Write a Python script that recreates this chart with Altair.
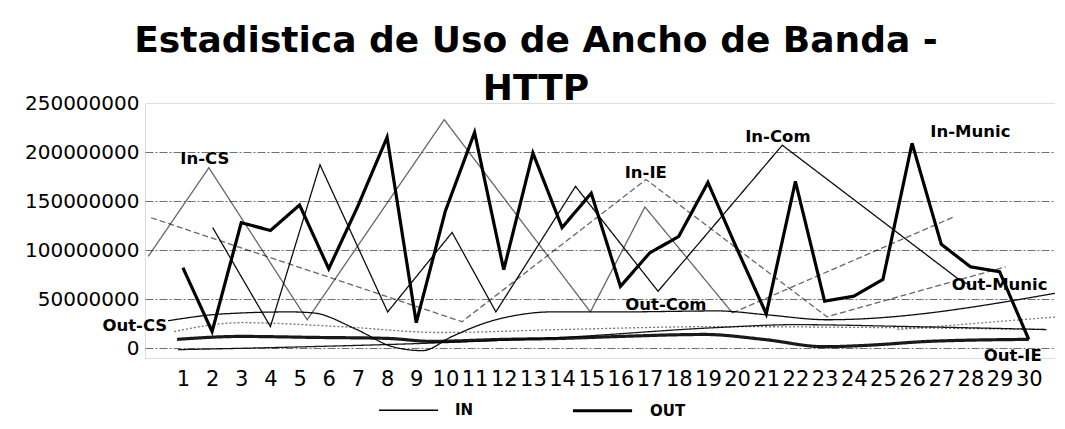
import altair as alt
import pandas as pd

TITLE = ["Estadistica de Uso de Ancho de Banda -", "HTTP"]
days = list(range(1, 31))
y_ticks = [0, 50000000, 100000000, 150000000, 200000000, 250000000]

# values in millions of bytes
out_main = [82, 17, 128, 120, 146, 81, 145, 215, 26, 140, 220, 80, 199, 123, 158,
            63, 97, 114, 169, 101, 35, 170, 48, 53, 70, 209, 106, 83, 78, 9]

in_cs_x = [-0.19, 1.89, 5.26, 9.96, 14.97, 16.84, 19.84]
in_cs_y = [93.5, 184, 29, 233, 37, 144, 36]
in_cs_tail_x = [19.84, 27.44]
in_cs_tail_y = [36, 134]
in_com_x = [2.02, 4.0, 5.70, 8.02, 10.23, 11.73, 14.46, 17.29, 21.55, 27.61, 28.0]
in_com_y = [123, 22, 187, 37, 118, 37, 165, 58, 207, 70, 64]
in_ie_x = [-0.09, 10.57, 16.88, 23.08, 29.21]
in_ie_y = [133, 27, 172, 32, 83]

out_com_x = [0.49, 2.4, 4.68, 5.46, 6.96, 8.19, 9.21, 10.23, 11.39, 12.52, 13.64,
             16.0, 19.33, 21.03, 23.08, 31.0]
out_com_y = [28, 35, 37, 36, 19, 1.5, -2.5, 12, 26, 34, 37, 37, 38, 34, 29, 56.5]
out_cs_x = [0.7, 3, 6.4, 9.8, 14, 19.3, 25, 30.6]
out_cs_y = [17, 26, 22, 16, 19, 22, 21, 19]
out_ie_x = [0.8, 3, 5.5, 8, 9.5, 12, 14, 16, 18.9, 20.9, 23, 24.5, 26.6, 30]
out_ie_y = [9, 12, 11, 10, 7, 9, 10, 12, 14, 9, 1.5, 3, 7, 9]
out_munic_x = [0.83, 5.26, 9.8, 14, 19.3, 22, 26, 30.6]
out_munic_y = [-1.5, 1.5, 5.5, 11, 21, 24, 22, 19]
out_munic_tail_x = [25.5, 31.0]
out_munic_tail_y = [19, 32]

label_text = ["In-CS", "Out-CS", "In-IE", "Out-Com", "In-Com", "In-Munic", "Out-Munic", "Out-IE"]
label_x = [1.75, -0.65, 16.87, 17.56, 21.4, 28.0, 29.0, 29.45]
label_y = [193, 23, 179, 44.3, 215.4, 220.4, 64.7, -7.6]

# series: name, xs, ys, group, opacity, dash, interpolation
series = [
    ("In-Munic", days, out_main, "OUT", 1.0, "solid", "linear"),
    ("In-CS", in_cs_x, in_cs_y, "IN", 0.6, "solid", "linear"),
    ("In-CS-tail", in_cs_tail_x, in_cs_tail_y, "IN", 0.6, "dash", "linear"),
    ("In-Com", in_com_x, in_com_y, "IN", 0.95, "solid", "linear"),
    ("In-IE", in_ie_x, in_ie_y, "IN", 0.6, "dash", "linear"),
    ("Out-Com", out_com_x, out_com_y, "IN", 0.95, "solid", "smooth"),
    ("Out-CS", out_cs_x, out_cs_y, "IN", 0.55, "dot", "smooth"),
    ("Out-IE", out_ie_x, out_ie_y, "OUT", 0.9, "solid", "smooth"),
    ("Out-Munic", out_munic_x, out_munic_y, "IN", 0.9, "solid", "smooth"),
    ("Out-Munic-tail", out_munic_tail_x, out_munic_tail_y, "IN", 0.5, "dot", "linear"),
]

rows = []
for name, xs, ys, grp, op, dash, interp in series:
    for xv, yv in zip(xs, ys):
        rows.append({"series": name, "x": xv, "v": yv * 1_000_000, "grp": grp,
                     "op": op, "dash": dash, "interp": interp})
df = pd.DataFrame(rows)
labels = pd.DataFrame({"t": label_text, "x": label_x, "v": [v * 1_000_000 for v in label_y]})

FONT = "DejaVu Sans"
leg = alt.Legend(orient="none", legendX=233, legendY=276, direction="horizontal", title=None,
                 symbolType="stroke", symbolSize=3500, labelFont=FONT, labelFontWeight="bold",
                 labelFontSize=15, labelColor="black", labelOffset=16, columnPadding=92)

x_enc = alt.X("x:Q", scale=alt.Scale(domain=[-0.3, 30.9], nice=False, zero=False),
              axis=alt.Axis(values=days, format="d", title=None, grid=False, ticks=False,
                            domain=False, labelAngle=0, labelFont=FONT, labelFontSize=21,
                            labelColor="black", labelPadding=10, labelOverlap=False,
                            labelFlush=False, labelBaseline="top", labelBound=False))
y_enc = alt.Y("v:Q", scale=alt.Scale(domain=[-10_000_000, 250_000_000], nice=False, zero=False),
              axis=alt.Axis(values=y_ticks, format="d", title=None, ticks=False, domain=False,
                            labelFont=FONT, labelFontSize=20, labelColor="black", labelPadding=6,
                            labelOverlap=False,
                            gridColor="#333333", gridDash=[8, 2, 2, 2], gridWidth=1,
                            gridOpacity={"condition": {"test": "datum.value >= 250000000", "value": 0},
                                         "value": 0.7}))

enc = dict(
    x=x_enc, y=y_enc,
    color=alt.Color("grp:N", scale=alt.Scale(domain=["IN", "OUT"], range=["#000000", "#000000"]), legend=leg),
    strokeWidth=alt.StrokeWidth("grp:N", scale=alt.Scale(domain=["IN", "OUT"], range=[1.3, 3.2]), legend=leg),
    strokeDash=alt.StrokeDash("dash:N", scale=alt.Scale(domain=["solid", "dash", "dot"],
                                                        range=[[1, 0], [6, 3], [2, 2]]), legend=None),
    opacity=alt.Opacity("op:Q", scale=None),
    detail="series:N",
)

base = alt.Chart(df)
lin = base.transform_filter(alt.datum.interp == "linear").mark_line(interpolate="linear", clip=True).encode(**enc)
smo = base.transform_filter(alt.datum.interp == "smooth").mark_line(interpolate="monotone", clip=True).encode(**enc)
txt = alt.Chart(labels).mark_text(font=FONT, fontWeight="bold", fontSize=16.5, color="black",
                                  align="center", baseline="middle").encode(
    x=x_enc, y=y_enc, text="t:N")

chart = alt.layer(lin, smo, txt).properties(
    width=910, height=255,
    title=alt.Title(TITLE, font=FONT, fontSize=36, fontWeight="bold", color="black",
                    lineHeight=48, anchor="middle", offset=0, dx=-64, dy=15),
    autosize=alt.AutoSizeParams(type="none"),
    padding={"left": 137, "top": 95, "right": 0, "bottom": 65},
).configure_view(stroke=None).configure_axis(labelOverlap=False).configure(background="white")

chart.save("out.html", embed_options={"renderer": "svg", "actions": False})
